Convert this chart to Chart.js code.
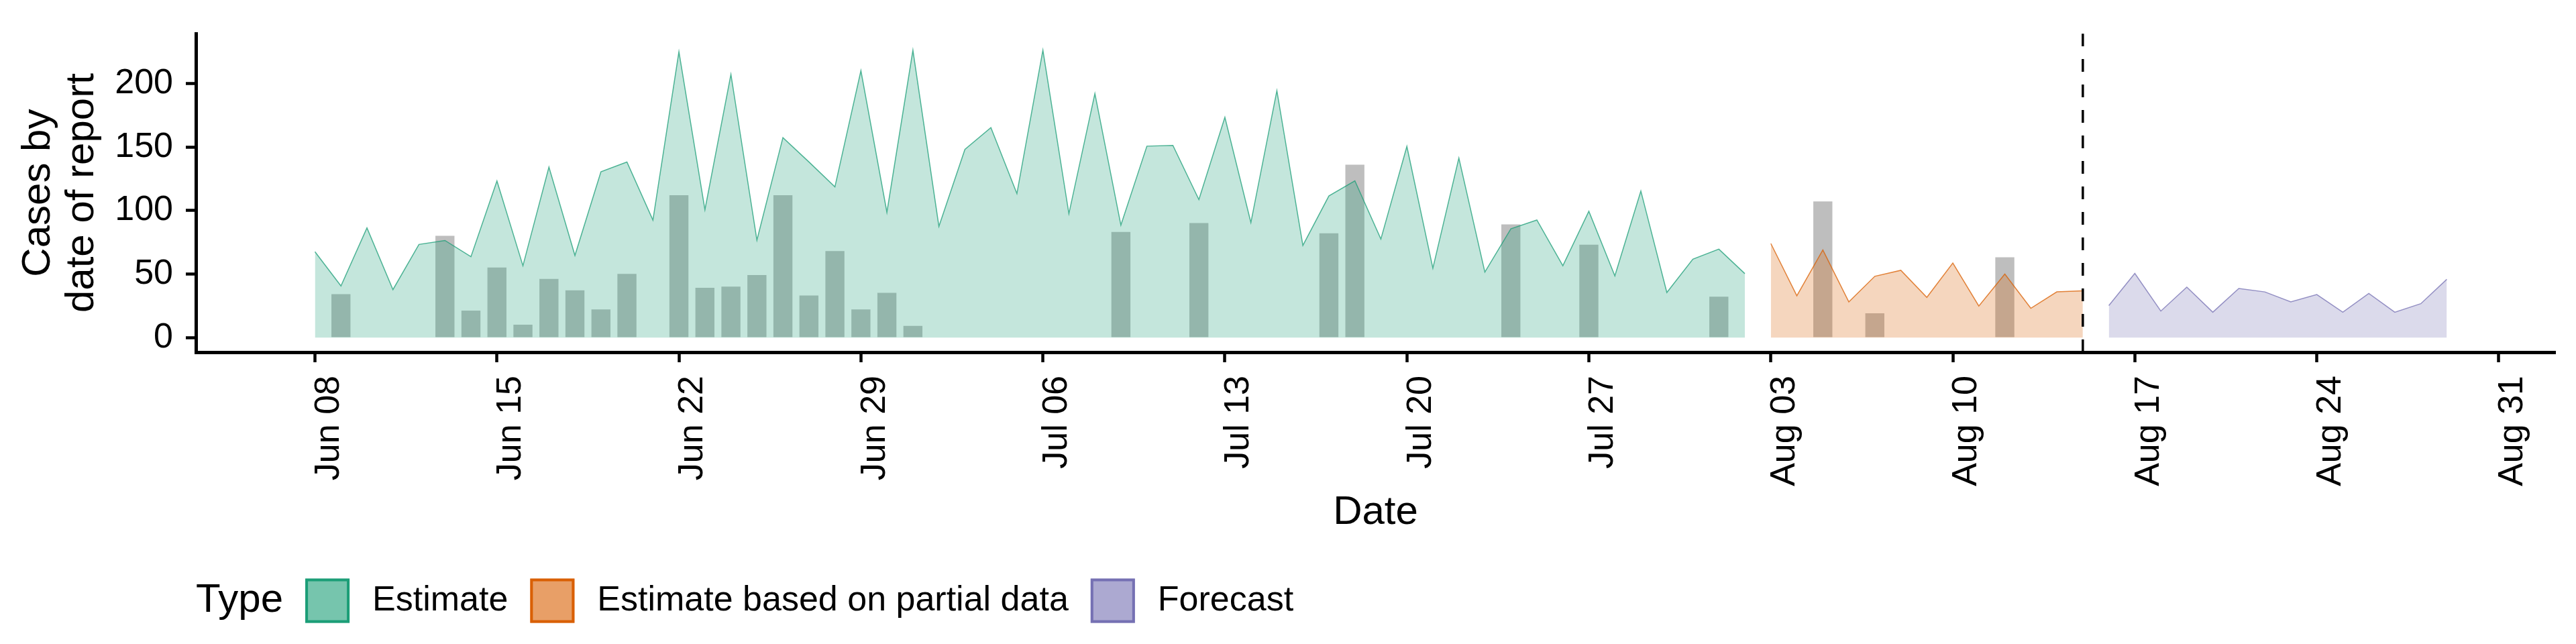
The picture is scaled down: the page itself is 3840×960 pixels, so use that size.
<!DOCTYPE html>
<html>
<head>
<meta charset="utf-8">
<title>Cases by date of report</title>
<script src="https://cdn.jsdelivr.net/npm/chart.js@4.4.1/dist/chart.umd.min.js"></script>
<style>
  html, body { margin: 0; padding: 0; background: #ffffff; }
  #wrap { width: 3840px; height: 960px; }
</style>
</head>
<body>
<div id="wrap"><canvas id="casesChart" width="3840" height="960"></canvas></div>
<script>
// values, one per day
var estimateStart = 'Jun 08';
var estimate = [67.6, 40.7, 86.4, 37.8, 73.4, 76.5, 63.7, 123.4, 56.6, 134.3,
  64.7, 130.6, 138.3, 92.6, 225.2, 100.7, 207.4, 76.8, 157.5, 138.4,
  118.7, 210.3, 98.7, 226.4, 87.6, 148.2, 165.4, 113.4, 226.4, 97.6,
  192.3, 88.6, 150.8, 151.4, 108.7, 173.6, 90.6, 194.5, 72.6, 111.6,
  123.5, 77.6, 150.6, 54.6, 141.5, 51.6, 85.7, 92.6, 56.6, 99.5,
  48.6, 115.5, 35.5, 61.8, 69.7, 50.4];

var partialStart = 'Aug 03';
var partial = [74.1, 33.0, 69.0, 28.1, 48.3, 53.0, 31.7, 58.7, 24.9, 50.1, 23.1, 36.0, 36.9];

var forecastStart = 'Aug 16';
var forecast = [25.2, 50.6, 20.9, 39.8, 20.0, 38.7, 36.0, 28.1, 33.9, 20.0, 34.8, 20.0, 26.7, 45.9];

var reportedDates = ['Jun 09', 'Jun 13', 'Jun 14', 'Jun 15', 'Jun 16', 'Jun 17', 'Jun 18', 'Jun 19',
  'Jun 20', 'Jun 22', 'Jun 23', 'Jun 24', 'Jun 25', 'Jun 26', 'Jun 27', 'Jun 28', 'Jun 29',
  'Jun 30', 'Jul 01', 'Jul 09', 'Jul 12', 'Jul 17', 'Jul 18', 'Jul 24', 'Jul 27', 'Aug 01',
  'Aug 05', 'Aug 07', 'Aug 12'];
var reportedCases = [35, 81, 22, 56, 11, 47, 38, 23,
  51, 113, 40, 41, 50, 113, 34, 69, 23,
  36, 10, 84, 91, 83, 137, 90, 74, 33,
  108, 20, 64];

var tickLabels = ['Jun 08', 'Jun 15', 'Jun 22', 'Jun 29', 'Jul 06', 'Jul 13', 'Jul 20',
  'Jul 27', 'Aug 03', 'Aug 10', 'Aug 17', 'Aug 24', 'Aug 31'];
var yTicks = [0, 50, 100, 150, 200];
var forecastCutoff = 'Aug 15';

var typeLabels = ['Estimate', 'Estimate based on partial data', 'Forecast'];
var typeColors = ['#1B9E77', '#D95F02', '#7570B3'];

// day number counted from Jun 08
var monthStart = { Jun: 0, Jul: 30, Aug: 61, Sep: 92 };
function dayIndex(label) {
  var parts = label.split(' ');
  return monthStart[parts[0]] + Number(parts[1]) - 8;
}
function labelForDay(v) {
  for (var i = 0; i < tickLabels.length; i++) {
    if (dayIndex(tickLabels[i]) === v) return tickLabels[i];
  }
  return '';
}
function series(start, values) {
  var d0 = dayIndex(start);
  return values.map(function (v, i) { return { x: d0 + i, y: v }; });
}
function rgba(hex, a) {
  var n = parseInt(hex.slice(1), 16);
  return 'rgba(' + (n >> 16) + ',' + ((n >> 8) & 255) + ',' + (n & 255) + ',' + a + ')';
}

Chart.defaults.font.family = "'Liberation Sans', Arial, sans-serif";
Chart.defaults.color = '#000';

var ribbon = function (label, start, values, colour) {
  return {
    type: 'line',
    label: label,
    data: series(start, values),
    fill: 'origin',
    backgroundColor: rgba(colour, 0.26),
    borderColor: rgba(colour, 0.75),
    borderWidth: 1.5,
    pointRadius: 0,
    tension: 0,
    order: 1
  };
};

// dashed line where the forecast starts
var cutoffLine = {
  id: 'cutoffLine',
  afterDatasetsDraw: function (chart) {
    var ctx = chart.ctx, area = chart.chartArea;
    var x = chart.scales.x.getPixelForValue(dayIndex(forecastCutoff));
    ctx.save();
    ctx.strokeStyle = '#000';
    ctx.lineWidth = 3.5;
    ctx.setLineDash([19, 19]);
    ctx.beginPath();
    ctx.moveTo(x, area.bottom);
    ctx.lineTo(x, area.top);
    ctx.stroke();
    ctx.restore();
  }
};

// ggplot style legend: "Type" then key boxes in one row
var typeLegend = {
  id: 'typeLegend',
  afterDraw: function (chart) {
    var ctx = chart.ctx;
    var y = 895.5, key = 66;
    var x = chart.chartArea.left;
    ctx.save();
    ctx.textBaseline = 'middle';
    ctx.textAlign = 'left';
    ctx.fillStyle = '#000';
    ctx.font = "60px 'Liberation Sans', Arial, sans-serif";
    ctx.fillText('Type', x, y);
    x += ctx.measureText('Type').width + 33;
    ctx.font = "52px 'Liberation Sans', Arial, sans-serif";
    typeLabels.forEach(function (label, i) {
      ctx.fillStyle = rgba(typeColors[i], 0.6);
      ctx.fillRect(x, y - key / 2, key, key);
      ctx.strokeStyle = typeColors[i];
      ctx.lineWidth = 4;
      ctx.strokeRect(x + 2, y - key / 2 + 2, key - 4, key - 4);
      x += key + 34;
      ctx.fillStyle = '#000';
      ctx.fillText(label, x, y);
      x += ctx.measureText(label).width + 33;
    });
    ctx.restore();
  }
};

new Chart(document.getElementById('casesChart'), {
  type: 'line',
  data: {
    datasets: [
      ribbon(typeLabels[0], estimateStart, estimate, typeColors[0]),
      ribbon(typeLabels[1], partialStart, partial, typeColors[1]),
      ribbon(typeLabels[2], forecastStart, forecast, typeColors[2]),
      {
        type: 'bar',
        label: 'Reported cases',
        data: reportedDates.map(function (d, i) { return { x: dayIndex(d), y: reportedCases[i] }; }),
        backgroundColor: 'rgb(190,190,190)',
        borderColor: 'rgba(255,255,255,0.5)',
        borderWidth: 1.5,
        categoryPercentage: 0.9,
        barPercentage: 0.9,
        order: 2
      }
    ]
  },
  plugins: [cutoffLine, typeLegend],
  options: {
    responsive: false,
    animation: false,
    devicePixelRatio: 1,
    layout: { autoPadding: false, padding: { left: 0, top: 28.6, right: 31, bottom: 160 } },
    plugins: {
      legend: { display: false },
      tooltip: { enabled: false }
    },
    scales: {
      x: {
        type: 'linear',
        offset: false,
        min: -4.58,
        max: 86.17,
        afterBuildTicks: function (scale) {
          scale.ticks = tickLabels.map(function (t) { return { value: dayIndex(t) }; });
        },
        afterFit: function (scale) { scale.height = 275; },
        grid: { display: true, offset: false, drawOnChartArea: false, drawTicks: true, tickLength: 15, tickWidth: 4.5, tickColor: '#000' },
        border: { display: true, color: '#000', width: 5 },
        ticks: {
          autoSkip: false,
          minRotation: 90,
          maxRotation: 90,
          padding: 20,
          labelOffset: 21,
          font: { size: 52 },
          callback: function (v) { return labelForDay(v); }
        },
        title: { display: true, text: 'Date', font: { size: 60 }, padding: { top: 0, bottom: 0 } }
      },
      y: {
        type: 'linear',
        min: -11.5,
        max: 239.4,
        afterBuildTicks: function (scale) {
          scale.ticks = yTicks.map(function (v) { return { value: v }; });
        },
        afterFit: function (scale) { scale.width = 292; },
        grid: { display: true, drawOnChartArea: false, drawTicks: true, tickLength: 15, tickWidth: 4.5, tickColor: '#000' },
        border: { display: true, color: '#000', width: 5 },
        ticks: { padding: 19, font: { size: 52 } },
        title: {
          display: true,
          text: ['Cases by', 'date of report'],
          font: { size: 60, lineHeight: 1.083 },
          padding: { top: 24.5, bottom: 0 }
        }
      }
    }
  }
});
</script>
</body>
</html>
